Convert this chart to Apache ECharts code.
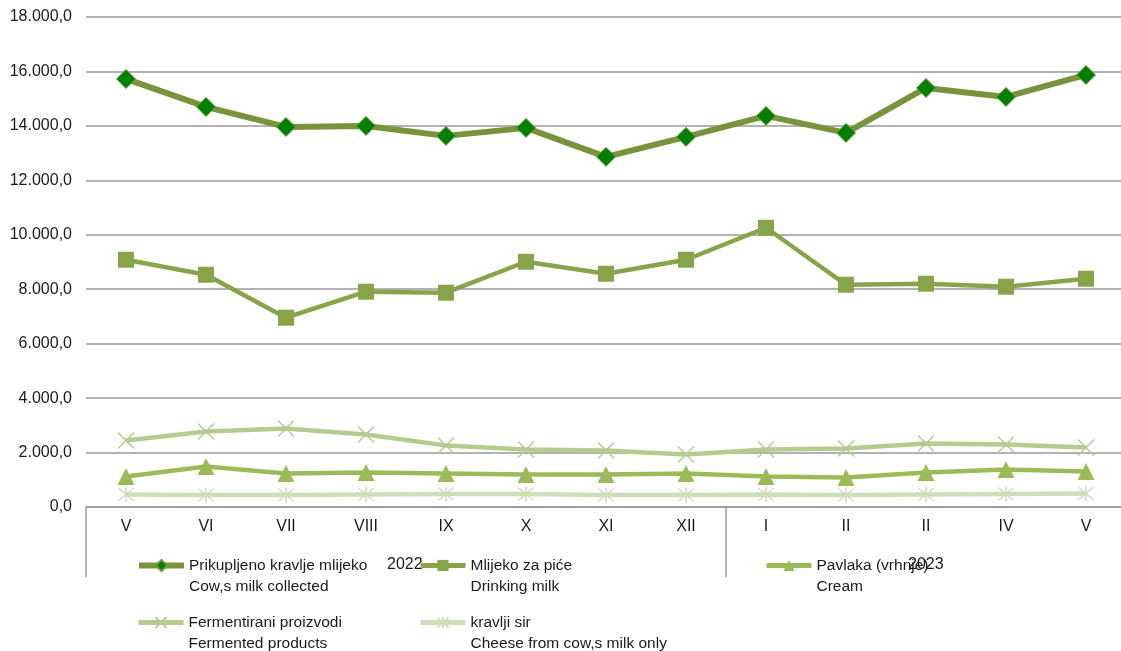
<!DOCTYPE html>
<html>
<head>
<meta charset="utf-8">
<script src="https://cdn.jsdelivr.net/npm/echarts@6/dist/echarts.min.js"></script>
<style>
html,body{margin:0;padding:0;background:#fff;}
#c{width:1121px;height:651px;}
</style>
</head>
<body>
<div id="c"></div>
<script>
const categories = ['V','VI','VII','VIII','IX','X','XI','XII','I','II','II','IV','V'];
const years = ['2022','2023'];
const seriesNames = [
  'Prikupljeno kravlje mlijeko\nCow,s milk collected',
  'Mlijeko za piće\nDrinking milk',
  'Pavlaka (vrhnje)\nCream',
  'Fermentirani proizvodi\nFermented products',
  'kravlji sir\nCheese from cow,s milk only'
];
const collected = [15725,14697,13963,13999,13633,13927,12862,13596,14367,13743,15394,15064,15872];
const drinking = [9083,8532,6954,7908,7872,9009,8569,9083,10257,8165,8202,8092,8385];
const cream = [1119,1486,1229,1266,1229,1193,1193,1229,1119,1083,1266,1376,1303];
const fermented = [2440,2771,2881,2661,2257,2110,2073,1927,2110,2147,2330,2294,2183];
const cheese = [459,440,440,459,477,477,440,440,459,440,459,477,496];

const FONT = '"Liberation Sans",Arial,sans-serif';
const fmt = v => {
  const s = Math.round(v).toString().replace(/\B(?=(\d{3})+(?!\d))/g,'.');
  return s + ',0';
};
const xPath = 'path://M0,0L10,10M10,0L0,10';
const starPath = 'path://M0,0L10,10M10,0L0,10M5,-1L5,11';

const chart = echarts.init(document.getElementById('c'));
const legendBase = (name, left, top, lw) => ({
  data: [name], left: left, top: top, orient: 'vertical',
  itemWidth: 45, itemHeight: 14, itemGap: 0, padding: 0,
  selectedMode: false,
  lineStyle: {width: lw},
  formatter: n => '\n' + n,
  textStyle: {fontFamily: FONT, fontSize: 15.5, color: '#1a1a1a', lineHeight: 21}
});
chart.setOption({
  animation: false,
  textStyle: {fontFamily: FONT},
  grid: {left: 86, top: 17, width: 1040, height: 490, containLabel: false, outerBoundsMode: 'none'},
  legend: [
    legendBase(seriesNames[0], 136, 534, 6),
    legendBase(seriesNames[1], 418, 534, 5),
    legendBase(seriesNames[2], 764, 534, 5),
    legendBase(seriesNames[3], 136, 591, 5),
    legendBase(seriesNames[4], 418, 591, 5)
  ],
  xAxis: {
    type: 'category', data: categories, boundaryGap: true,
    axisLine: {lineStyle: {color: '#999', width: 1.5}},
    axisTick: {show: true, length: 70, interval: (i) => i === 0 || i === 8, lineStyle: {color: '#999', width: 1.5}},
    axisLabel: {margin: 12, fontSize: 16, color: '#1a1a1a', fontFamily: FONT, interval: 0}
  },
  yAxis: {
    type: 'value', min: 0, max: 18000, interval: 2000,
    axisLine: {show: false}, axisTick: {show: false},
    splitLine: {lineStyle: {color: '#999', width: 1.5}},
    axisLabel: {formatter: fmt, fontSize: 16, color: '#1a1a1a', fontFamily: FONT, margin: 14}
  },
  graphic: [
    {type: 'text', left: 387, top: 557, style: {text: years[0], font: '16px ' + FONT, fill: '#1a1a1a'}},
    {type: 'text', left: 908, top: 557, style: {text: years[1], font: '16px ' + FONT, fill: '#1a1a1a'}}
  ],
  series: [
    {name: seriesNames[0], type: 'line', data: collected, z: 5,
     lineStyle: {color: '#77933C', width: 6}, symbol: 'diamond', symbolSize: 19,
     itemStyle: {color: '#008000', borderColor: '#77933C', borderWidth: 1}},
    {name: seriesNames[1], type: 'line', data: drinking, z: 4,
     lineStyle: {color: '#88A44A', width: 4.5}, symbol: 'rect', symbolSize: 16,
     itemStyle: {color: '#88A44A'}},
    {name: seriesNames[2], type: 'line', data: cream, z: 3,
     lineStyle: {color: '#9BBB59', width: 4.5}, symbol: 'triangle', symbolSize: 17,
     itemStyle: {color: '#9BBB59'}},
    {name: seriesNames[3], type: 'line', data: fermented, z: 2,
     lineStyle: {color: '#B5CC91', width: 4.5}, symbol: xPath, symbolSize: 16,
     itemStyle: {color: 'none', borderColor: '#B5CC91', borderWidth: 1.5}},
    {name: seriesNames[4], type: 'line', data: cheese, z: 1,
     lineStyle: {color: '#CEDDBA', width: 4.5}, symbol: starPath, symbolSize: 15,
     itemStyle: {color: 'none', borderColor: '#CEDDBA', borderWidth: 1.5}}
  ]
});
</script>
</body>
</html>
